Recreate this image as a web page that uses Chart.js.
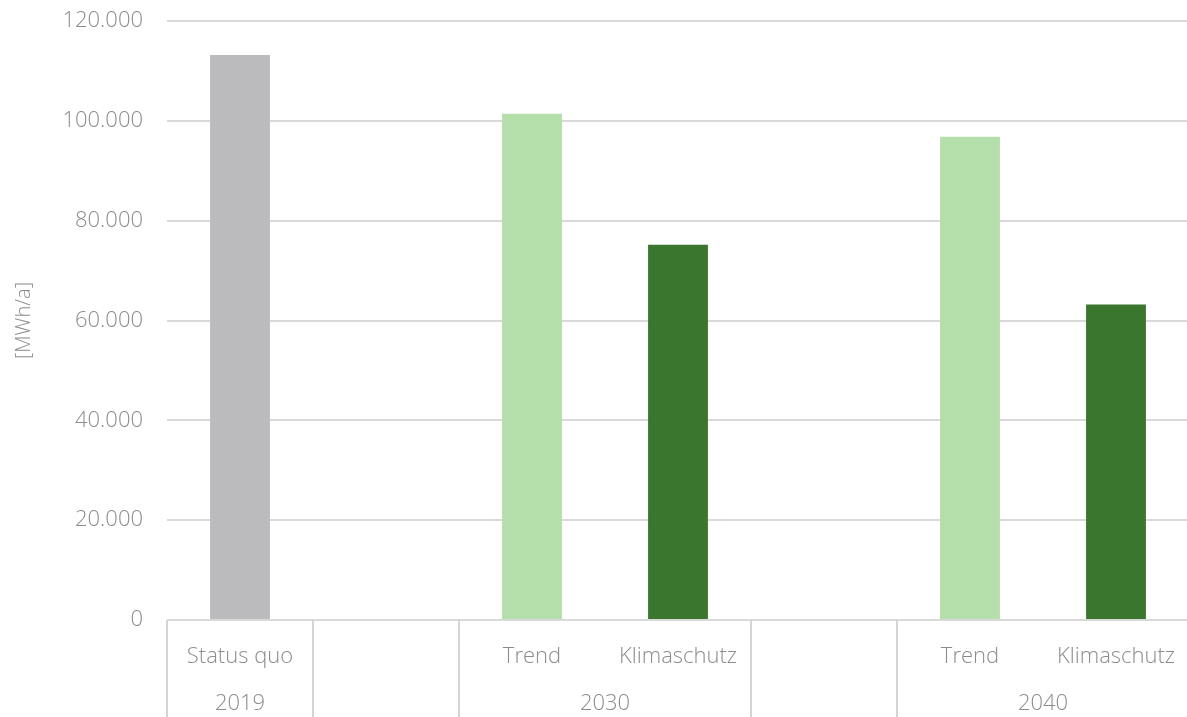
<!DOCTYPE html>
<html>
<head>
<meta charset="utf-8">
<script src="https://cdn.jsdelivr.net/npm/chart.js@4"></script>
<style>
  html, body { margin: 0; padding: 0; background: #fff; overflow: hidden; }
  #wrap { width: 1191px; height: 717px; }
</style>
</head>
<body>
<div id="wrap"><canvas id="barChart"></canvas></div>
<script>
const categories = ['Status quo', '', 'Trend', 'Klimaschutz', '', 'Trend', 'Klimaschutz'];
const values = [113200, null, 101400, 75200, null, 96800, 63200];
const barColors = ['#bbbbbd', '#bbbbbd', '#b4dfaa', '#3b762f', '#bbbbbd', '#b4dfaa', '#3b762f'];
// year groups: first and last category index of each group
const groupLabels = ['2019', '', '2030', '', '2040'];
const groupStart = [0, 1, 2, 4, 5];
const groupEnd = [0, 1, 3, 4, 6];
const yTicks = [0, 20000, 40000, 60000, 80000, 100000, 120000];

const textColor = '#8c8c8c';
const fontFamily = '"Open Sans", Roboto, sans-serif';

function fmt(v) {
    return String(v).replace(/\B(?=(\d{3})+(?!\d))/g, '.');
}

const groupAxis = {
    id: 'groupAxis',
    afterDraw(chart) {
        const ctx = chart.ctx;
        const x = chart.scales.x;
        const area = chart.chartArea;
        const half = (x.getPixelForValue(1) - x.getPixelForValue(0)) / 2;
        ctx.save();
        ctx.strokeStyle = '#d4d4d4';
        ctx.lineWidth = 2;
        ctx.fillStyle = textColor;
        ctx.font = '300 22px ' + fontFamily;
        ctx.textAlign = 'center';
        ctx.textBaseline = 'middle';
        groupLabels.forEach((lab, i) => {
            const left = x.getPixelForValue(groupStart[i]) - half;
            const right = x.getPixelForValue(groupEnd[i]) + half;
            ctx.beginPath();
            ctx.moveTo(left, area.bottom);
            ctx.lineTo(left, chart.height);
            ctx.stroke();
            if (lab) ctx.fillText(lab, (left + right) / 2, area.bottom + 84);
        });
        ctx.restore();
    }
};

new Chart(document.getElementById('barChart').getContext('2d'), {
    type: 'bar',
    data: {
        labels: categories,
        datasets: [{
            data: values,
            backgroundColor: barColors,
            barPercentage: 0.41,
            categoryPercentage: 1
        }]
    },
    options: {
        responsive: true,
        maintainAspectRatio: false,
        animation: false,
        layout: { padding: { top: 21, right: -10, bottom: 0, left: 0 } },
        plugins: { legend: { display: false }, tooltip: { enabled: false } },
        scales: {
            x: {
                grid: { display: false },
                border: { display: false },
                ticks: {
                    color: textColor,
                    font: { family: fontFamily, size: 22, weight: '300' },
                    padding: 16,
                    maxRotation: 0,
                    autoSkip: false
                },
                afterFit: s => { s.height = 97; }
            },
            y: {
                min: 0,
                max: 120000,
                afterBuildTicks: s => { s.ticks = yTicks.map(v => ({ value: v })); },
                grid: { color: '#d9d9d9', lineWidth: 2, drawTicks: false },
                border: { display: false },
                ticks: {
                    color: textColor,
                    font: { family: fontFamily, size: 22, weight: '300' },
                    padding: 24,
                    callback: v => fmt(v)
                },
                title: {
                    display: true,
                    text: '[MWh/a]',
                    color: textColor,
                    font: { family: fontFamily, size: 20, weight: '300' },
                    padding: { top: 12, bottom: 0 }
                },
                afterFit: s => { s.width = 167; s.paddingTop = 0; s.paddingBottom = 0; }
            }
        }
    },
    plugins: [groupAxis]
});
</script>
</body>
</html>
